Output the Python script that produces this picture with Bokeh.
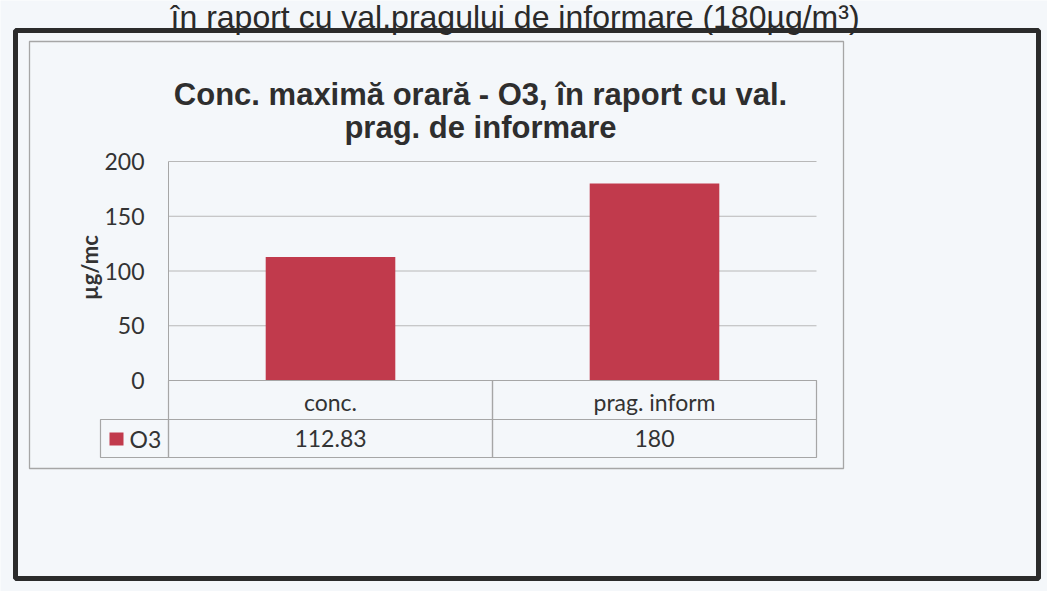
import math
from bokeh.plotting import figure
from bokeh.models import Range1d
from bokeh.core.properties import value
from bokeh.embed import file_html
from bokeh.resources import INLINE

# ---------------- data ----------------
categories = ["conc.", "prag. inform"]
o3_values = [112.83, 180]
value_labels = ["112.83", "180"]
series_name = "O3"
y_ticks = [0, 50, 100, 150, 200]
y_tick_labels = ["0", "50", "100", "150", "200"]
y_axis_label = "µg/mc"
title_lines = ["Conc. maximă orară - O3, în raport cu val.", "prag. de informare"]
page_heading = "în raport cu val.pragului de informare  (180µg/m³)"

# ---------------- layout (canvas pixels, y downwards) ----------------
W, H = 1047, 591
FL, FR, FT, FB = 168, 816, 161, 380      # plot area
Y_MAX = 200
N = len(categories)

BG = "#F4F7FA"
BAR = "#C13A4C"
TXT = "#333333"
GRID = "#b8b8b8"
BOXLINE = "#a6a6a6"

p = figure(width=W, height=H, output_backend="svg", toolbar_location=None,
           x_range=Range1d(0, W), y_range=Range1d(H, 0),
           x_axis_location=None, y_axis_location=None,
           min_border=0, background_fill_color=BG, border_fill_color=BG,
           outline_line_color=None)
p.grid.visible = False

# category / value scales mapped onto the plot area
cpx = (FR - FL) / N
p.extra_x_ranges = {"cx": Range1d(-FL / cpx, N + (W - FR) / cpx)}
vpx = (FB - FT) / Y_MAX
p.extra_y_ranges = {"vy": Range1d(-(H - FB) / vpx, Y_MAX + FT / vpx)}

cat_pos = [i + 0.5 for i in range(N)]
cat_left = [i for i in range(N)]
cat_right = [i + 1 for i in range(N)]

# outer thick frame and inner chart box
p.quad(left=[15], right=[1038], top=[30], bottom=[578], fill_color=None,
       line_color="#2b2b2b", line_width=5)
p.quad(left=[29], right=[843], top=[41], bottom=[468], fill_color=None,
       line_color=BOXLINE, line_width=1.3)

# gridlines and value axis line
p.segment(x0=[0] * len(y_ticks), x1=[N] * len(y_ticks), y0=y_ticks, y1=y_ticks,
          x_range_name="cx", y_range_name="vy", line_color=GRID, line_width=1)
p.segment(x0=[0], x1=[0], y0=[0], y1=[Y_MAX], x_range_name="cx", y_range_name="vy",
          line_color=BOXLINE, line_width=1)

# bars
p.vbar(x=cat_pos, top=o3_values, width=0.4, x_range_name="cx", y_range_name="vy",
       fill_color=BAR, line_color=None)

# tick labels
p.text(x=[FL - 24] * len(y_ticks), y=y_ticks, text=y_tick_labels, y_range_name="vy",
       text_align="right", text_baseline="middle", text_font=value("Lato"),
       text_font_size="23px", text_color=TXT)

# y axis title
p.text(x=[89], y=[267], text=[y_axis_label], angle=math.pi / 2, text_align="center",
       text_baseline="middle", text_font=value("Lato"), text_font_style="bold",
       text_font_size="22px", text_color=TXT)

# heading above (cut by page top)
p.text(x=[519], y=[16], text=[page_heading], text_align="center",
       text_baseline="alphabetic", text_font=value("Liberation Sans"),
       text_font_size="32px", text_color="#2a2a2a")

# chart title
p.text(x=[480] * len(title_lines), y=[94 + 33 * i for i in range(len(title_lines))],
       text=title_lines, text_align="center", text_baseline="alphabetic",
       text_font=value("Liberation Sans"), text_font_style="bold",
       text_font_size="31px", text_color="#2e2e2e")

# data table
R1T, R1B, R2B = FB, 419, 457
p.quad(left=cat_left, right=cat_right, top=[R1T] * N, bottom=[R1B] * N,
       x_range_name="cx", fill_color=None, line_color=BOXLINE, line_width=1.2)
p.quad(left=cat_left, right=cat_right, top=[R1B] * N, bottom=[R2B] * N,
       x_range_name="cx", fill_color=None, line_color=BOXLINE, line_width=1.2)
p.text(x=cat_pos, y=[401] * N, text=categories, x_range_name="cx",
       text_align="center", text_baseline="middle", text_font=value("Lato"),
       text_font_size="23px", text_color=TXT)
p.text(x=cat_pos, y=[438] * N, text=value_labels, x_range_name="cx",
       text_align="center", text_baseline="middle", text_font=value("Lato"),
       text_font_size="23px", text_color=TXT)

# legend cell
p.quad(left=[100], right=[FL], top=[R1B], bottom=[R2B], fill_color=None,
       line_color=BOXLINE, line_width=1.2)
p.quad(left=[109], right=[123], top=[432], bottom=[445], fill_color=BAR, line_color=None)
p.text(x=[129], y=[438], text=[series_name], text_align="left", text_baseline="middle",
       text_font=value("Lato"), text_font_size="23px", text_color=TXT)

open("out.html", "w").write(file_html(p, INLINE))
